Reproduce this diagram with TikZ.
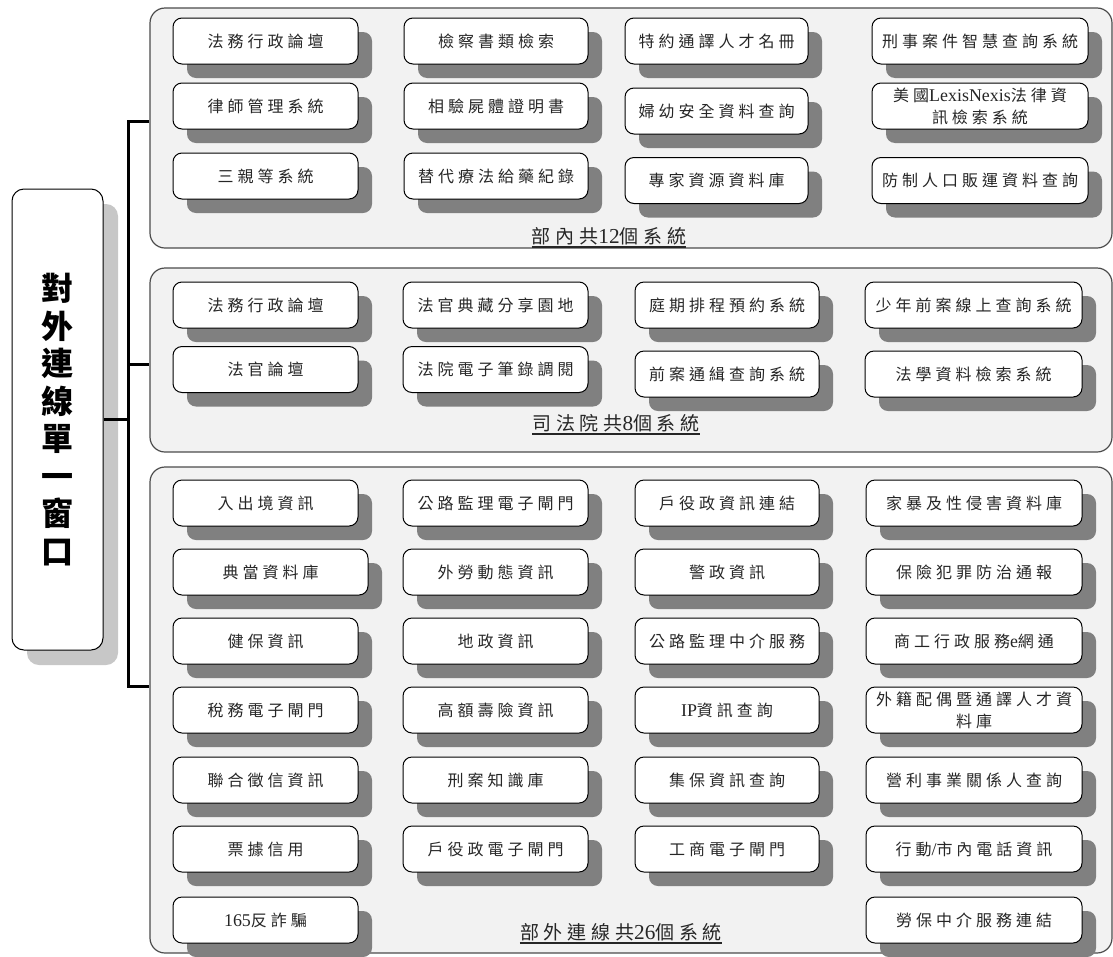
\documentclass[tikz,border=0pt]{standalone}
\usepackage{fontspec}
\usetikzlibrary{shadows}
\newfontfamily\cjk[LetterSpace=25]{Noto Sans CJK TC}
\newfontfamily\cjkmain{Noto Sans CJK TC}
\newfontfamily\lat[Scale=1.12]{Liberation Serif}
\tikzset{
  panel/.style={draw=black!70, fill=black!5, line width=1.2pt, rounded corners=15pt, inner sep=0pt},
  sbox/.style={draw=black, fill=white, line width=1pt, rounded corners=9pt,
    minimum height=46pt, inner sep=0pt, align=center, text=black!85,
    font=\cjk\fontsize{16}{22}\selectfont,
    drop shadow={shadow xshift=14pt, shadow yshift=-14pt, fill=black!50, opacity=1}},
  mainbox/.style={draw=black, fill=white, line width=1pt, rounded corners=12pt,
    minimum width=91pt, minimum height=461pt, inner sep=0pt, align=center,
    font=\cjkmain\bfseries\fontsize{32}{37.5}\selectfont,
    drop shadow={shadow xshift=15pt, shadow yshift=-15pt, fill=black!22, opacity=1}},
  plabel/.style={anchor=base, inner sep=0pt, text=black!85, font=\cjk\fontsize{19}{22}\selectfont},
  uline/.style={line width=1.2pt, black!85},
  conn/.style={line width=3pt, black}
}
\newcommand\sysbox[5]{\node[sbox, minimum width=#4pt] (#1) at (#2,#3) {#5};}
\begin{document}
\begin{tikzpicture}[x=1pt, y=-1pt]
\useasboundingbox (0,0) rectangle (1113,956);

% panels
\node[panel, minimum width=962pt, minimum height=240pt] (p1) at (631,128) {};
\node[panel, minimum width=962pt, minimum height=184pt] (p2) at (631,360) {};
\node[panel, minimum width=962pt, minimum height=486pt] (p3) at (631,710) {};

% main box
\node[mainbox] (main) at (57.5,419.5) {對\\外\\連\\線\\單\\一\\窗\\口};

% connectors
\coordinate (t1) at (128,121);
\coordinate (t2) at (128,364);
\coordinate (t3) at (128,686);
\draw[conn] (main.east) -- (main.east -| t1);
\draw[conn] (p1.west |- t1) -- (t1) -- (t3) -- (p3.west |- t3);
\draw[conn] (t2) -- (p2.west |- t2);

% panel 1
\sysbox{a1}{265.5}{41}{185}{法務行政論壇}
\sysbox{a2}{496}{41}{184}{檢察書類檢索}
\sysbox{a3}{716.5}{41}{183}{特約通譯人才名冊}
\sysbox{a4}{980}{41}{216}{刑事案件智慧查詢系統}
\sysbox{a5}{265.5}{106}{185}{律師管理系統}
\sysbox{a6}{496}{106}{184}{相驗屍體證明書}
\sysbox{a7}{716.5}{111}{183}{婦幼安全資料查詢}
\sysbox{a8}{980}{106}{216}{美國{\lat LexisNexis}法律資\\訊檢索系統}
\sysbox{a9}{265.5}{176}{185}{三親等系統}
\sysbox{a10}{496}{176}{184}{替代療法給藥紀錄}
\sysbox{a11}{716.5}{180.5}{183}{專家資源資料庫}
\sysbox{a12}{980}{180.5}{216}{防制人口販運資料查詢}
\node[plabel] (l1) at (609,243) {部內共{\lat 12}個系統};
\draw[uline] ([yshift=-4pt]l1.base west) -- ([yshift=-4pt]l1.base east);

% panel 2
\sysbox{b1}{265.5}{305}{185}{法務行政論壇}
\sysbox{b2}{495.5}{305}{185}{法官典藏分享園地}
\sysbox{b3}{727}{305}{184}{庭期排程預約系統}
\sysbox{b4}{973.5}{305}{217}{少年前案線上查詢系統}
\sysbox{b5}{265.5}{369.5}{185}{法官論壇}
\sysbox{b6}{495.5}{369.5}{185}{法院電子筆錄調閱}
\sysbox{b7}{727}{374}{184}{前案通緝查詢系統}
\sysbox{b8}{973.5}{374}{217}{法學資料檢索系統}
\node[plabel] (l2) at (616,430) {司法院共{\lat 8}個系統};
\draw[uline] ([yshift=-4pt]l2.base west) -- ([yshift=-4pt]l2.base east);

% panel 3
\sysbox{c1}{265.5}{503}{185}{入出境資訊}
\sysbox{c2}{495.5}{503}{185}{公路監理電子閘門}
\sysbox{c3}{727}{503}{184}{戶役政資訊連結}
\sysbox{c4}{974}{503}{216}{家暴及性侵害資料庫}
\sysbox{c5}{270.5}{572}{195}{典當資料庫}
\sysbox{c6}{495.5}{572}{185}{外勞動態資訊}
\sysbox{c7}{727}{572}{184}{警政資訊}
\sysbox{c8}{974}{572}{216}{保險犯罪防治通報}
\sysbox{c9}{265.5}{641}{185}{健保資訊}
\sysbox{c10}{495.5}{641}{185}{地政資訊}
\sysbox{c11}{727}{641}{184}{公路監理中介服務}
\sysbox{c12}{974}{641}{216}{商工行政服務{\lat e}網通}
\sysbox{c13}{265.5}{710}{185}{稅務電子閘門}
\sysbox{c14}{495.5}{710}{185}{高額壽險資訊}
\sysbox{c15}{727}{710}{184}{{\lat IP}資訊查詢}
\sysbox{c16}{974}{710}{216}{外籍配偶暨通譯人才資\\料庫}
\sysbox{c17}{265.5}{780}{185}{聯合徵信資訊}
\sysbox{c18}{495.5}{780}{185}{刑案知識庫}
\sysbox{c19}{727}{780}{184}{集保資訊查詢}
\sysbox{c20}{974}{780}{216}{營利事業關係人查詢}
\sysbox{c21}{265.5}{849}{185}{票據信用}
\sysbox{c22}{495.5}{849}{185}{戶役政電子閘門}
\sysbox{c23}{727}{849}{184}{工商電子閘門}
\sysbox{c24}{974}{849}{216}{行動{\lat /}市內電話資訊}
\sysbox{c25}{265.5}{920}{185}{{\lat 165}反詐騙}
\sysbox{c26}{974}{920}{216}{勞保中介服務連結}
\node[plabel] (l3) at (621,939) {部外連線共{\lat 26}個系統};
\draw[uline] ([yshift=-4pt]l3.base west) -- ([yshift=-4pt]l3.base east);
\end{tikzpicture}
\end{document}
